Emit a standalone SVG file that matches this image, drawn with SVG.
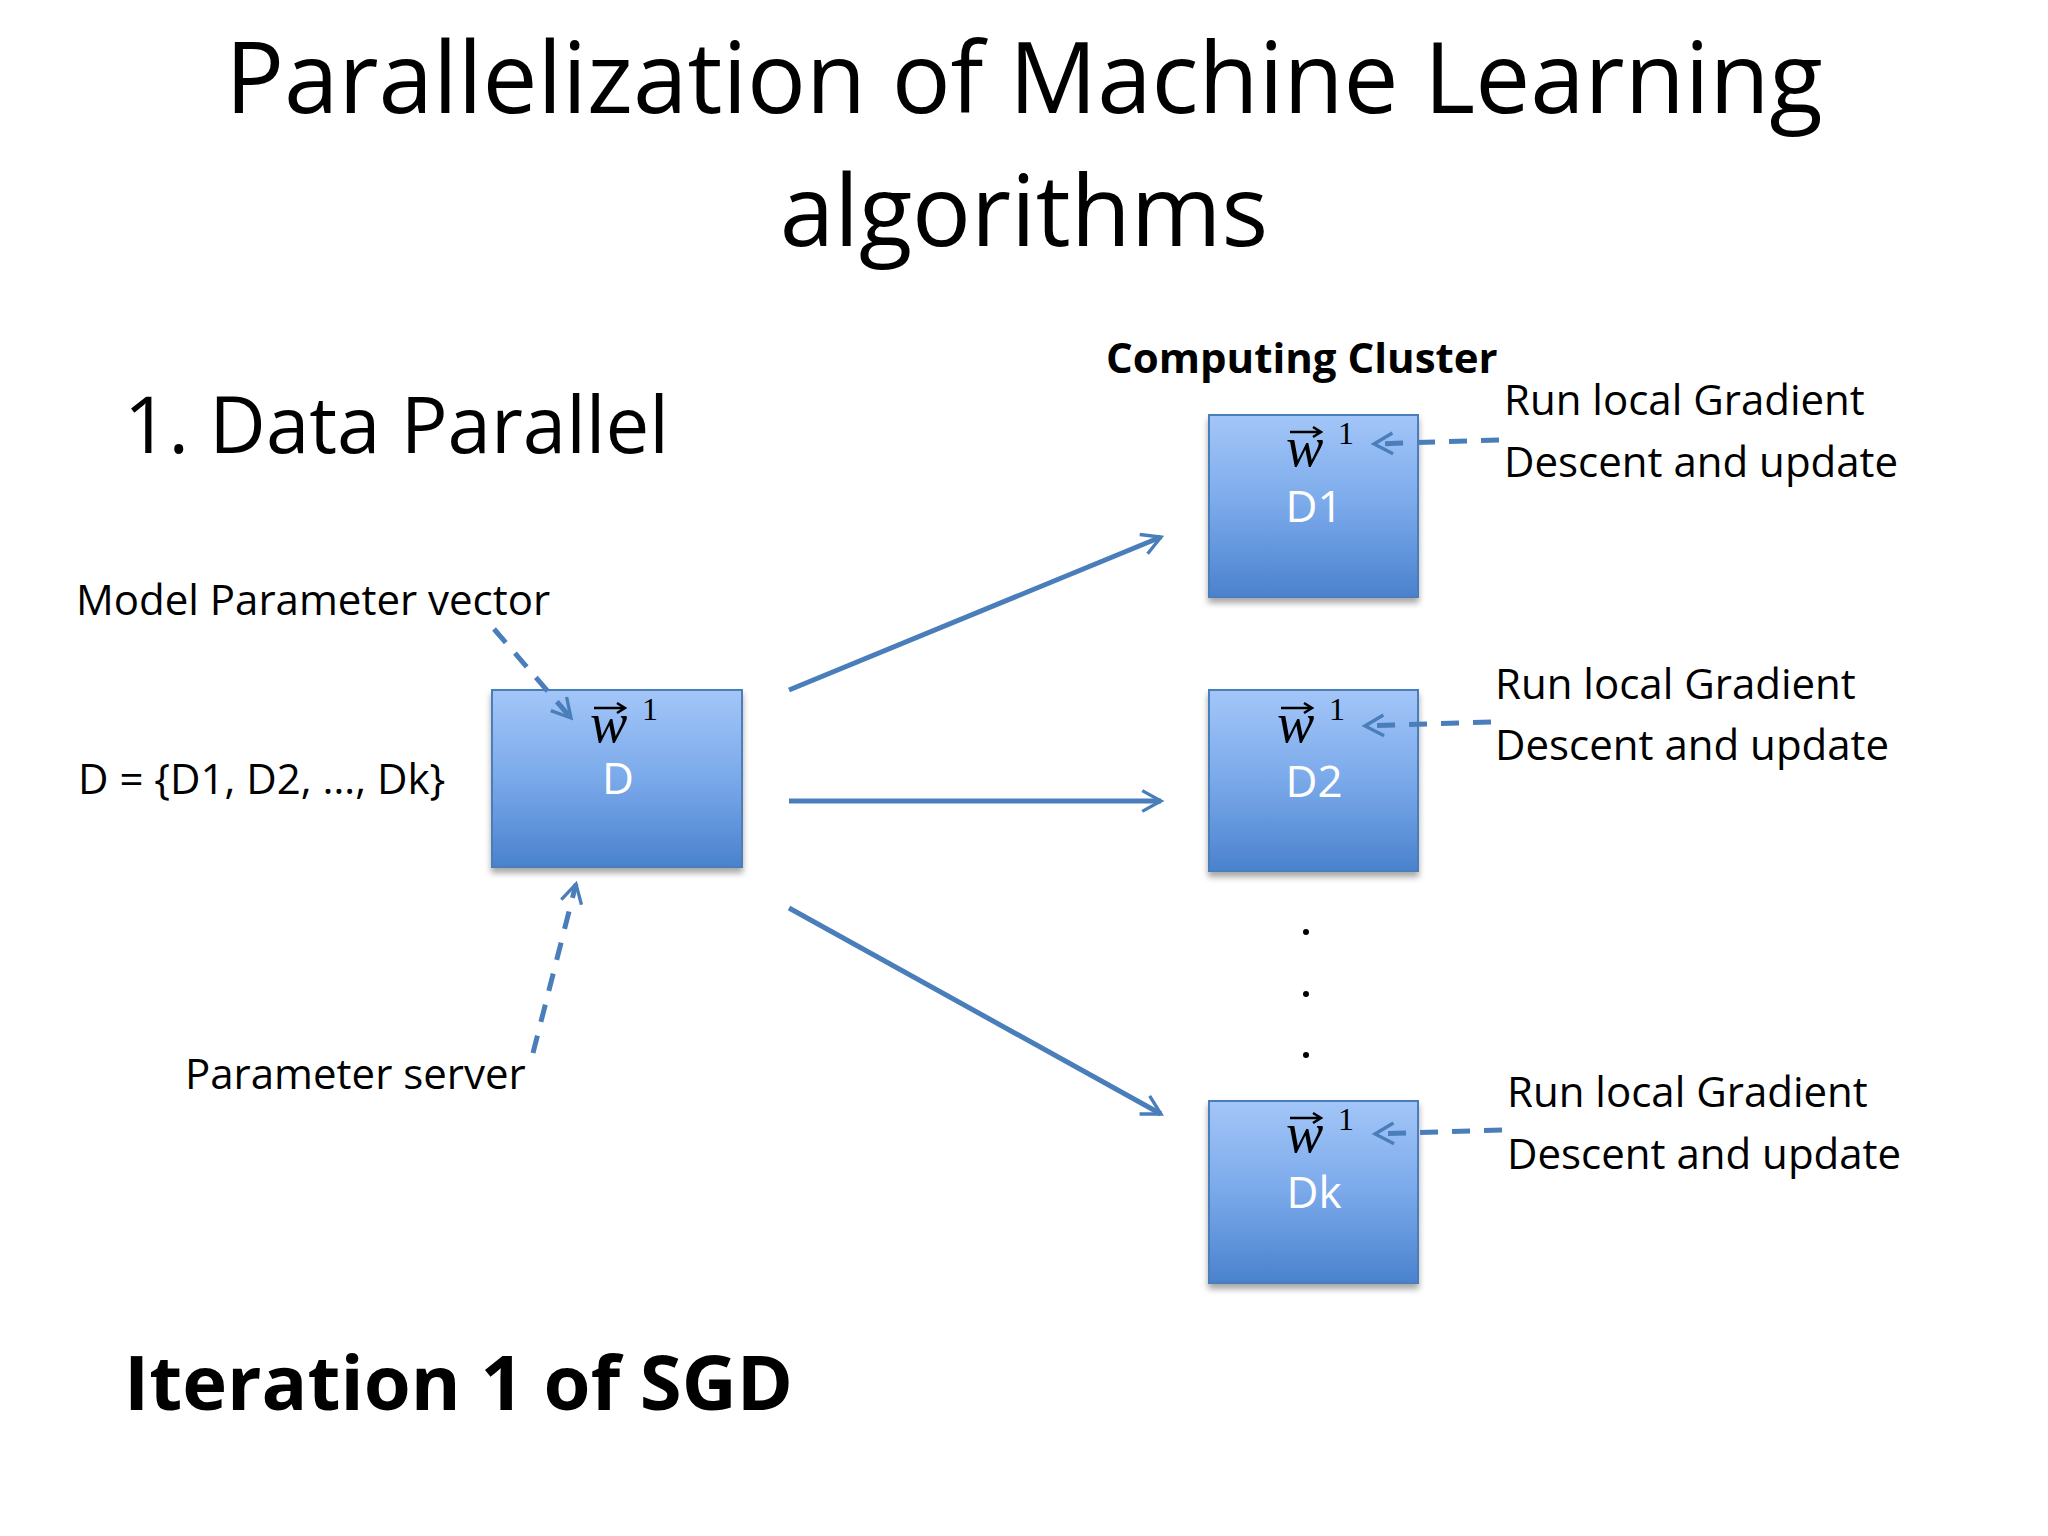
<svg xmlns="http://www.w3.org/2000/svg" width="2048" height="1536" viewBox="0 0 2048 1536">
<style>
text{font-family:"Open Sans","Liberation Sans",sans-serif;fill:#000}
.b{font-weight:bold}
.w{font-family:"Liberation Serif",serif;font-style:italic;font-size:56px}
.sup{font-family:"Liberation Serif",serif;font-size:32px}
.lbl{fill:#fff;font-size:44px;text-anchor:middle}
.box{fill:url(#g);stroke:#4a7ebb;stroke-width:2;filter:url(#sh)}
.vec{stroke:#000;stroke-width:2.5;fill:none}
.ar{stroke:#4a7ebb;stroke-width:5;fill:none;marker-end:url(#m)}
.da{stroke:#4a7ebb;stroke-width:5;fill:none;stroke-dasharray:18 14;marker-end:url(#m)}
.t{font-size:42px}
</style>
<defs>
<linearGradient id="g" x1="0" y1="0" x2="0" y2="1"><stop offset="0" stop-color="#a3c6f8"/><stop offset="0.5" stop-color="#7aa9ea"/><stop offset="1" stop-color="#4a82cd"/></linearGradient>
<filter id="sh" x="-10%" y="-10%" width="120%" height="130%"><feDropShadow dx="0" dy="5" stdDeviation="3" flood-opacity="0.35"/></filter>
<marker id="m" viewBox="0 0 12 12" refX="10" refY="6" markerWidth="5" markerHeight="5" orient="auto" markerUnits="strokeWidth"><path d="M1,1 L10,6 L1,11" fill="none" stroke="#4a7ebb" stroke-width="1.6" stroke-dasharray="none"/></marker>
</defs>
<rect width="2048" height="1536" fill="#fff"/>
<text x="1024" y="113" font-size="98" text-anchor="middle">Parallelization of Machine Learning</text>
<text x="1024" y="246" font-size="98" text-anchor="middle">algorithms</text>
<text x="124" y="453" font-size="78">1. Data Parallel</text>
<text x="1106" y="373" font-size="42" class="b">Computing Cluster</text>
<text x="76" y="615" class="t">Model Parameter vector</text>
<text x="78" y="794" class="t">D = {D1, D2, …, Dk}</text>
<text x="185" y="1089" class="t">Parameter server</text>
<text x="124" y="1410" font-size="76" class="b">Iteration 1 of SGD</text>
<g id="nodeD"><rect class="box" x="492" y="690" width="250" height="177"/><text class="w" x="590" y="742">w</text><path class="vec" d="M594,708 L624,708 M617,703 L625,708 L617,713"/><text class="sup" x="642" y="720">1</text><text class="lbl" x="618" y="794">D</text></g>
<g id="nodeD1"><rect class="box" x="1209" y="415" width="209" height="182"/><text class="w" x="1286" y="466">w</text><path class="vec" d="M1290,432 L1320,432 M1313,427 L1321,432 L1313,437"/><text class="sup" x="1338" y="444">1</text><text class="lbl" x="1314" y="522">D1</text></g>
<g id="nodeD2"><rect class="box" x="1209" y="690" width="209" height="181"/><text class="w" x="1277" y="742">w</text><path class="vec" d="M1281,708 L1311,708 M1304,703 L1312,708 L1304,713"/><text class="sup" x="1329" y="720">1</text><text class="lbl" x="1314" y="797">D2</text></g>
<g id="nodeDk"><rect class="box" x="1209" y="1101" width="209" height="182"/><text class="w" x="1286" y="1152">w</text><path class="vec" d="M1290,1118 L1320,1118 M1313,1113 L1321,1118 L1313,1123"/><text class="sup" x="1338" y="1130">1</text><text class="lbl" x="1314" y="1208">Dk</text></g>
<g id="notes" class="t">
<text x="1504" y="415">Run local Gradient</text><text x="1504" y="477">Descent and update</text>
<text x="1495" y="699">Run local Gradient</text><text x="1495" y="760">Descent and update</text>
<text x="1507" y="1107">Run local Gradient</text><text x="1507" y="1169">Descent and update</text>
</g>
<g id="dots" fill="#000"><circle cx="1306" cy="932" r="3"/><circle cx="1306" cy="994" r="3"/><circle cx="1306" cy="1055" r="3"/></g>
<g id="connectors">
<line class="ar" x1="789" y1="690" x2="1161" y2="537"/>
<line class="ar" x1="789" y1="801" x2="1161" y2="801"/>
<line class="ar" x1="789" y1="908" x2="1161" y2="1114"/>
<line class="da" x1="494" y1="629" x2="571" y2="718"/>
<line class="da" x1="533" y1="1053" x2="576" y2="884"/>
<line class="da" x1="1499" y1="440" x2="1374" y2="444"/>
<line class="da" x1="1491" y1="722" x2="1365" y2="726"/>
<line class="da" x1="1502" y1="1130" x2="1375" y2="1134"/>
</g>
</svg>
